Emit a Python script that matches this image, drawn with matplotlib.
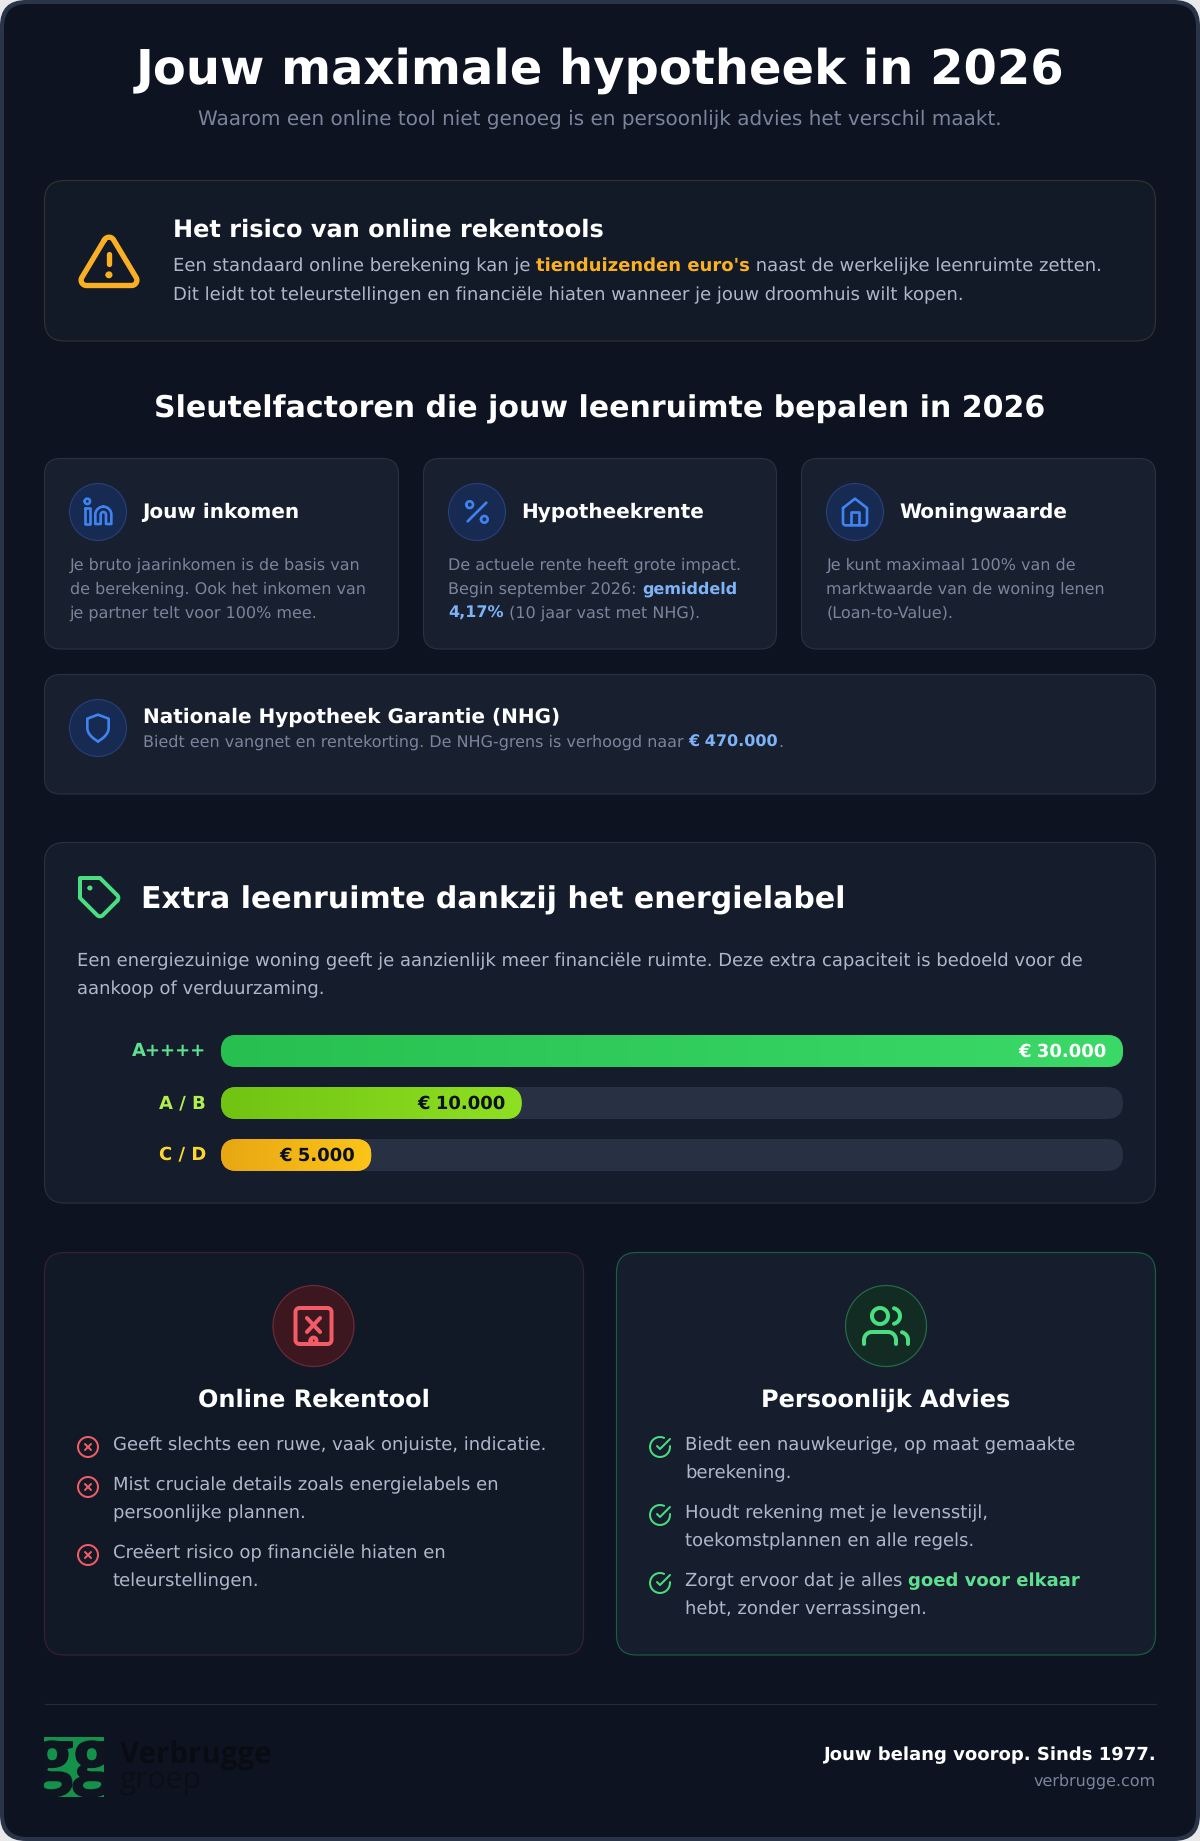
import re
import numpy as np
import matplotlib
matplotlib.use("Agg")
import matplotlib.pyplot as plt
import matplotlib.patheffects as pe
from matplotlib.patches import FancyBboxPatch, Circle, Rectangle
from matplotlib.transforms import ScaledTranslation

plt.rcParams["text.hinting"] = "no_hinting"

W, H = 1200, 1841
# ---------- data ----------
labels = ["A++++", "A / B", "C / D"]
values = [30000, 10000, 5000]
value_labels = ["€ 30.000", "€ 10.000", "€ 5.000"]
label_colors = ["#5fe090", "#b2ee4f", "#fdd632"]
grad_left = ["#27c050", "#70c412", "#e8a713"]
grad_right = ["#3bd968", "#8fe022", "#fcc419"]
value_colors = ["#ffffff", "#0b111c", "#0b111c"]
axis_max = 30000

factor_titles = ["Jouw inkomen", "Hypotheekrente", "Woningwaarde"]

BG = "#0d1320"
FRAME = "#2a3448"
WHITE = "#ffffff"
MUTED = "#7a859d"
SOFT = "#aeb8cb"
BLUE = "#3f83f0"
LBLUE = "#7fb3f8"
GREEN = "#4ade80"
LGREEN = "#5fe090"
RED = "#f25c66"
AMBER = "#fbb024"

fig = plt.figure(figsize=(W / 100, H / 100), dpi=100, facecolor="#e9e9e9")
ax = fig.add_axes([0, 0, 1, 1])
ax.set_xlim(0, W)
ax.set_ylim(H, 0)
ax.axis("off")
R = fig.canvas.get_renderer()
px = lambda p: p * 0.72


def box(x0, y0, x1, y1, r, fc, ec=None, lw=1.2, z=1):
    p = FancyBboxPatch((x0, y0), x1 - x0, y1 - y0, boxstyle=f"round,pad=0,rounding_size={r}",
                       fc=fc, ec=ec if ec else "none", lw=px(lw), zorder=z)
    ax.add_patch(p)
    return p


def T(x, y, s, size, color, weight="normal", ha="left", family="DejaVu Sans", z=5):
    return ax.text(x, y, s, fontsize=px(size), color=color, fontweight=weight, ha=ha, va="baseline",
                   family=family, zorder=z)


def width(s, size, weight):
    a = ax.text(0, 0, s + "|", fontsize=px(size), fontweight=weight)
    b = ax.text(0, 0, "|", fontsize=px(size), fontweight=weight)
    w = a.get_window_extent(R).width - b.get_window_extent(R).width
    a.remove(); b.remove()
    return w


def runs(x, y, parts, size):
    for s, color, weight in parts:
        T(x, y, s, size, color, weight)
        x += width(s, size, weight)


def parse(d):
    toks = re.findall(r"[a-zA-Z]|-?\d*\.?\d+", d)
    i, out, cur = 0, [], []
    x = y = sx = sy = 0.0
    cmd = None
    pc = None
    def num():
        nonlocal i
        v = float(toks[i]); i += 1
        return v
    while i < len(toks):
        if toks[i].isalpha():
            cmd = toks[i]; i += 1
            if cmd in "zZ":
                cur.append((sx, sy)); x, y = sx, sy
                out.append(cur); cur = []
                continue
        rel = cmd.islower()
        c = cmd.upper()
        ox, oy = (x, y) if rel else (0, 0)
        if c == "M":
            if cur: out.append(cur)
            x, y = ox + num(), oy + num(); sx, sy = x, y; cur = [(x, y)]
            cmd = "l" if rel else "L"
        elif c == "L":
            x, y = ox + num(), oy + num(); cur.append((x, y))
        elif c == "H":
            x = ox + num(); cur.append((x, y))
        elif c == "V":
            y = oy + num(); cur.append((x, y))
        elif c in "CS":
            if c == "C":
                x1, y1 = ox + num(), oy + num()
            else:
                x1, y1 = (2 * x - pc[0], 2 * y - pc[1]) if pc else (x, y)
            x2, y2 = ox + num(), oy + num()
            x3, y3 = ox + num(), oy + num()
            for t in np.linspace(0, 1, 17)[1:]:
                u = 1 - t
                cur.append((u**3 * x + 3 * u * u * t * x1 + 3 * u * t * t * x2 + t**3 * x3,
                            u**3 * y + 3 * u * u * t * y1 + 3 * u * t * t * y2 + t**3 * y3))
            x, y = x3, y3; pc = (x2, y2)
            continue
        elif c == "A":
            r = num(); num(); num(); large = num(); sweep = num()
            x1, y1 = ox + num(), oy + num()
            dx, dy = (x - x1) / 2, (y - y1) / 2
            d2 = dx * dx + dy * dy
            r = max(r, np.sqrt(d2))
            k = np.sqrt(max(0, (r * r - d2) / d2)) * (-1 if large == sweep else 1)
            cx, cy = k * dy + (x + x1) / 2, -k * dx + (y + y1) / 2
            a0, a1 = np.arctan2(y - cy, x - cx), np.arctan2(y1 - cy, x1 - cx)
            if sweep and a1 < a0: a1 += 2 * np.pi
            if not sweep and a1 > a0: a1 -= 2 * np.pi
            for a in np.linspace(a0, a1, 25)[1:]:
                cur.append((cx + r * np.cos(a), cy + r * np.sin(a)))
            x, y = x1, y1
        pc = None
    if cur: out.append(cur)
    return out


def circ(cx, cy, r):
    return f"M{cx-r} {cy}A{r} {r} 0 1 0 {cx+r} {cy}A{r} {r} 0 1 0 {cx-r} {cy}"


ICONS = {
    "in": ["M16 8a6 6 0 0 1 6 6v7h-4v-7a2 2 0 0 0-2-2 2 2 0 0 0-2 2v7h-4v-7a6 6 0 0 1 6-6z",
           "M2 9h4v12h-4z", circ(4, 4, 2)],
    "pct": ["M19 5L5 19", circ(6.5, 6.5, 2.5), circ(17.5, 17.5, 2.5)],
    "home": ["M3 9l9-7 9 7v11a2 2 0 0 1-2 2H5a2 2 0 0 1-2-2z", "M9 22V12h6v10"],
    "shield": ["M12 22s8-4 8-10V5l-8-3-8 3v7c0 6 8 10 8 10z"],
    "warn": ["M10.29 3.86L1.82 18a2 2 0 0 0 1.71 3h16.94a2 2 0 0 0 1.71-3L13.71 3.86a2 2 0 0 0-3.42 0z",
             "M12 9v4", circ(12, 17, 0.3)],
    "tag": ["M20.59 13.41l-7.17 7.17a2 2 0 0 1-2.83 0L2 12V2h10l8.59 8.59a2 2 0 0 1 0 2.82z", circ(7, 7, 0.25)],
    "tablet": ["M5 3h14a2 2 0 0 1 2 2v14a2 2 0 0 1-2 2H5a2 2 0 0 1-2-2V5a2 2 0 0 1 2-2z",
               "M8.7 8l6.6 7", "M15.3 8l-6.6 7", circ(12, 19.3, 1.5)],
    "users": ["M17 21v-2a4 4 0 0 0-4-4H5a4 4 0 0 0-4 4v2", circ(9, 7, 4),
              "M23 21v-2a4 4 0 0 0-3-3.87", "M16 3.13a4 4 0 0 1 0 7.75"],
    "x": [circ(12, 12, 10), "M15 9l-6 6", "M9 9l6 6"],
    "check": ["M22 11.08V12a10 10 0 1 1-5.93-9.14", "M22 4L12 14.01l-3-3"],
}


def icon(name, cx, cy, size, color, sw=2):
    s = size / 24
    for d in ICONS[name]:
        for poly in parse(d):
            a = np.array(poly)
            ax.plot(cx + (a[:, 0] - 12) * s, cy + (a[:, 1] - 12) * s, color=color, lw=px(sw * s),
                    solid_capstyle="round", solid_joinstyle="round", zorder=6)


# ---------- frame ----------
box(0, 0, W, H, 26, FRAME, z=0)
box(4, 4, W - 4, H - 4, 23, BG, z=0.5)

# ---------- header ----------
T(600, 84, "Jouw maximale hypotheek in 2026", 48, WHITE, "bold", "center")
T(600, 125, "Waarom een online tool niet genoeg is en persoonlijk advies het verschil maakt.", 20, MUTED, ha="center")

# ---------- risk card ----------
box(44.5, 180.5, 1155.5, 341, 20, "#131a27", "#33302f")
icon("warn", 109, 261.5, 64, AMBER, 2)
T(173, 237, "Het risico van online rekentools", 24, WHITE, "bold")
runs(173, 271, [("Een standaard online berekening kan je ", SOFT, "normal"),
                ("tienduizenden euro's", AMBER, "bold"),
                (" naast de werkelijke leenruimte zetten.", SOFT, "normal")], 18)
T(173, 300, "Dit leidt tot teleurstellingen en financiële hiaten wanneer je jouw droomhuis wilt kopen.", 18, SOFT)

# ---------- section heading ----------
T(600, 417.5, "Sleutelfactoren die jouw leenruimte bepalen in 2026", 30, WHITE, "bold", "center")

# ---------- factor cards ----------
CARD = "#181f2e"
CEDGE = "#283041"
ICIRC = "#172a52"
IEDGE = "#263f78"
xs = [(44.5, 398.5), (423.5, 776.5), (801.5, 1155.5)]
for (x0, x1), t, ic in zip(xs, factor_titles, ["in", "pct", "home"]):
    box(x0, 458.5, x1, 649, 16, CARD, CEDGE)
    ax.add_patch(Circle((x0 + 53.5, 512), 28.5, fc=ICIRC, ec=IEDGE, lw=px(1.2), zorder=2))
    icon(ic, x0 + 53.5, 512, 32, BLUE, 2)
    T(x0 + 98, 518, t, 20, WHITE, "bold")
x = xs[0][0] + 25
for y, s in zip([570, 594, 618], ["Je bruto jaarinkomen is de basis van", "de berekening. Ook het inkomen van",
                                  "je partner telt voor 100% mee."]):
    T(x, y, s, 16, MUTED)
x = xs[1][0] + 25
T(x, 570, "De actuele rente heeft grote impact.", 16, MUTED)
runs(x, 594, [("Begin september 2026: ", MUTED, "normal"), ("gemiddeld", LBLUE, "bold")], 16)
runs(x, 618, [("4,17%", LBLUE, "bold"), (" (10 jaar vast met NHG).", MUTED, "normal")], 16)
x = xs[2][0] + 25
for y, s in zip([570, 594, 618], ["Je kunt maximaal 100% van de", "marktwaarde van de woning lenen", "(Loan-to-Value)."]):
    T(x, y, s, 16, MUTED)

# NHG
box(44.5, 674.5, 1155.5, 794, 16, CARD, CEDGE)
ax.add_patch(Circle((98, 728), 28.5, fc=ICIRC, ec=IEDGE, lw=px(1.2), zorder=2))
icon("shield", 98, 728, 32, BLUE, 2)
T(143, 723, "Nationale Hypotheek Garantie (NHG)", 20, WHITE, "bold")
runs(143, 747, [("Biedt een vangnet en rentekorting. De NHG-grens is verhoogd naar ", MUTED, "normal"),
                ("€ 470.000", LBLUE, "bold"), (".", MUTED, "normal")], 16)

# ---------- energy card ----------
box(44.5, 842.5, 1155.5, 1203, 20, "#151c2b", CEDGE)
icon("tag", 100, 898, 48, GREEN, 2)
T(141, 908.5, "Extra leenruimte dankzij het energielabel", 30, WHITE, "bold")
T(77, 966, "Een energiezuinige woning geeft je aanzienlijk meer financiële ruimte. Deze extra capaciteit is bedoeld voor de", 18, SOFT)
T(77, 994, "aankoop of verduurzaming.", 18, SOFT)

# bar chart: one axes with its own value scale
pitch, bar_h = 52.0, 32.0
top, bottom = 1035.0, 1171.0
bax = fig.add_axes([221 / W, 1 - bottom / H, 902 / W, (bottom - top) / H], zorder=3)
bax.set_xlim(0, axis_max)
half = bar_h / pitch / 2
bax.set_ylim(len(values) - 1 + half, -half)
bax.patch.set_alpha(0)
for sp in bax.spines.values():
    sp.set_visible(False)
bax.set_xticks([])
ypos = np.arange(len(values))
bax.set_yticks(ypos, labels)
bax.tick_params(axis="y", length=0, pad=px(15))
shift = ScaledTranslation(0, 2.0 / 100, fig.dpi_scale_trans)
for tl, c in zip(bax.get_yticklabels(), label_colors):
    tl.set_color(c); tl.set_fontweight("bold"); tl.set_fontsize(px(18))
    tl.set_transform(tl.get_transform() + shift)
aspect = (1 / pitch) * (902 / axis_max)  # y units per x unit
rad = 16 * axis_max / 902
def rounded(v, y):
    p = FancyBboxPatch((0, y - half), v, 2 * half,
                       boxstyle=f"round,pad=0,rounding_size={rad}", mutation_aspect=aspect,
                       fc="none", ec="none", transform=bax.transData)
    bax.add_patch(p)
    return p
for i, (v, lc, rc) in enumerate(zip(values, grad_left, grad_right)):
    track = bax.barh(i, axis_max, height=2 * half, color="#283044", zorder=1)[0]
    track.set_clip_path(rounded(axis_max, i))
    bar = bax.barh(i, v, height=2 * half, color=lc, zorder=2)[0]
    clip = rounded(v, i)
    bar.set_clip_path(clip)
    a, b = matplotlib.colors.to_rgb(lc), matplotlib.colors.to_rgb(rc)
    g = np.linspace(0, 1, 256)[None, :, None]
    img = np.array(a)[None, None, :] * (1 - g) + np.array(b)[None, None, :] * g
    im = bax.imshow(img, extent=(0, v, i + half, i - half), aspect="auto", zorder=3, interpolation="bilinear")
    im.set_clip_path(clip)
    bax.annotate(value_labels[i], (v, i), xytext=(px(-16), px(-0.5)), textcoords="offset points", ha="right",
                 va="center", color=value_colors[i], fontweight="bold", fontsize=px(18), zorder=5)
bax.set_xlim(0, axis_max)
bax.set_ylim(len(values) - 1 + half, -half)

# ---------- comparison cards ----------
box(44.5, 1252.5, 583.5, 1655, 20, "#121926", "#3a2030")
box(616.5, 1252.5, 1155.5, 1655, 20, "#161e2e", "#1c5c40")
ax.add_patch(Circle((313.5, 1326), 40.5, fc="#3c171f", ec="#6e2a35", lw=px(1.2), zorder=2))
icon("tablet", 313.5, 1326, 48, RED, 2)
ax.add_patch(Circle((886, 1326), 40.5, fc="#122c24", ec="#256b47", lw=px(1.2), zorder=2))
icon("users", 886, 1326, 48, GREEN, 2)
T(314, 1407, "Online Rekentool", 24, WHITE, "bold", "center")
T(886, 1407, "Persoonlijk Advies", 24, WHITE, "bold", "center")

left_lines = [(1450, "Geeft slechts een ruwe, vaak onjuiste, indicatie."),
              (1490, "Mist cruciale details zoals energielabels en"),
              (1518, "persoonlijke plannen."),
              (1558, "Creëert risico op financiële hiaten en"),
              (1586, "teleurstellingen.")]
for y, s in left_lines:
    T(113, y, s, 18, SOFT)
for y in [1447, 1487, 1555]:
    icon("x", 88, y, 24, RED, 2)
right_lines = [(1450, "Biedt een nauwkeurige, op maat gemaakte"), (1478, "berekening."),
               (1518, "Houdt rekening met je levensstijl,"), (1546, "toekomstplannen en alle regels."),
               (1614, "hebt, zonder verrassingen.")]
for y, s in right_lines:
    T(685, y, s, 18, SOFT)
runs(685, 1586, [("Zorgt ervoor dat je alles ", SOFT, "normal"), ("goed voor elkaar", LGREEN, "bold")], 18)
for y in [1447, 1515, 1583]:
    icon("check", 660, y, 24, GREEN, 2)

# ---------- footer ----------
ax.plot([44.5, 1155.5], [1704, 1704], color="#242c3b", lw=px(1.2), zorder=2)
logo = Rectangle((44, 1737), 60, 60, fc="#14914b", ec="none", zorder=2)
ax.add_patch(logo)
t = ax.text(73, 1780, "gg", fontsize=px(70), fontweight="bold", family="Open Sans", color="#0e1420",
            ha="center", va="baseline", zorder=3, clip_on=True,
            path_effects=[pe.withStroke(linewidth=px(1.5), foreground="#0e1420")])
t.set_clip_path(logo)
T(120, 1764, "Verbrugge", 29.5, "#090c12", "bold", family="Open Sans", z=3)
T(120, 1788, "groep", 30, "#0a0e16", family="Open Sans", z=3)
T(1156, 1760, "Jouw belang voorop. Sinds 1977.", 18, WHITE, "bold", "right")
T(1156, 1786, "verbrugge.com", 16, MUTED, ha="right")

fig.savefig("out.png", dpi=100, facecolor=fig.get_facecolor())
